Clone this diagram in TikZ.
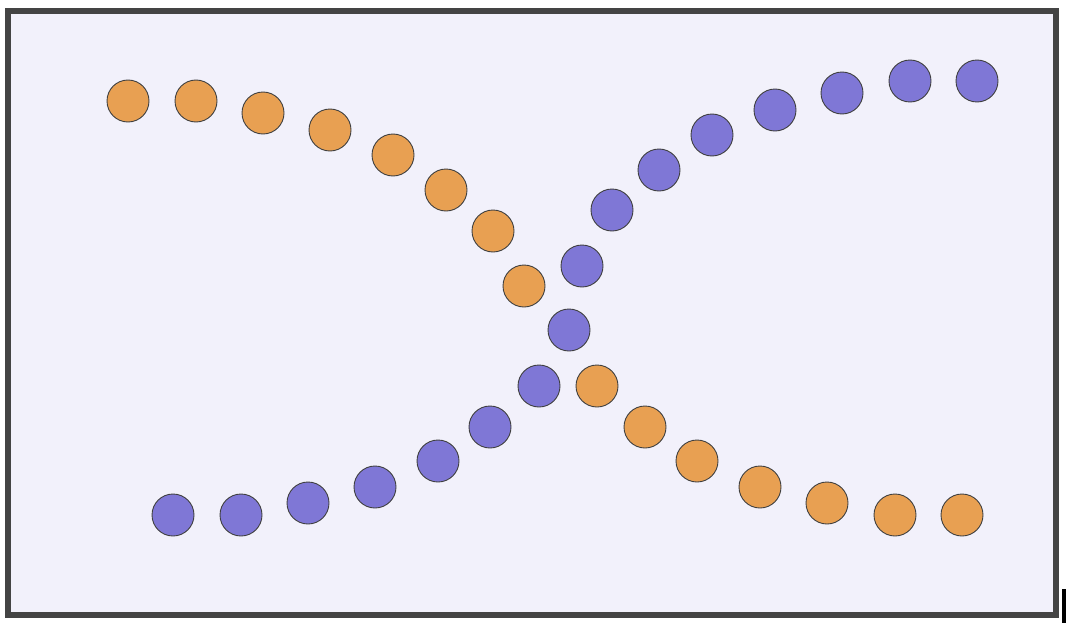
\documentclass[tikz,border=0pt]{standalone}
\begin{document}
\begin{tikzpicture}[x=1pt,y=-1pt,
  dotbase/.style={circle,draw=black!75,line width=0.9pt,minimum size=42pt,inner sep=0pt},
  orangedot/.style={dotbase,fill=dotorange},
  purpledot/.style={dotbase,fill=dotpurple}]
\definecolor{dotorange}{HTML}{E8A052}
\definecolor{dotpurple}{HTML}{7F77D6}
\definecolor{bgfill}{HTML}{F2F1FB}
\definecolor{framegray}{HTML}{444444}
\useasboundingbox (0,0) rectangle (1078,626);
\fill[white] (0,0) rectangle (1078,626);
\draw[framegray,line width=6pt,fill=bgfill] (8,11) rectangle (1056,615);
\fill[black] (1062,589) rectangle (1066,623);
\foreach \x/\y [count=\i] in {128/101,196/101,263/113,330/130,393/155,446/190,493/231,524/286,597/386,645/427,697/461,760/487,827/503,895/515,962/515}
  \node[orangedot] (o\i) at (\x,\y) {};
\foreach \x/\y [count=\i] in {173/515,241/515,308/503,375/487,438/461,490/427,539/386,569/330,582/266,612/210,659/170,712/135,775/110,842/93,910/81,977/81}
  \node[purpledot] (p\i) at (\x,\y) {};
\end{tikzpicture}
\end{document}
